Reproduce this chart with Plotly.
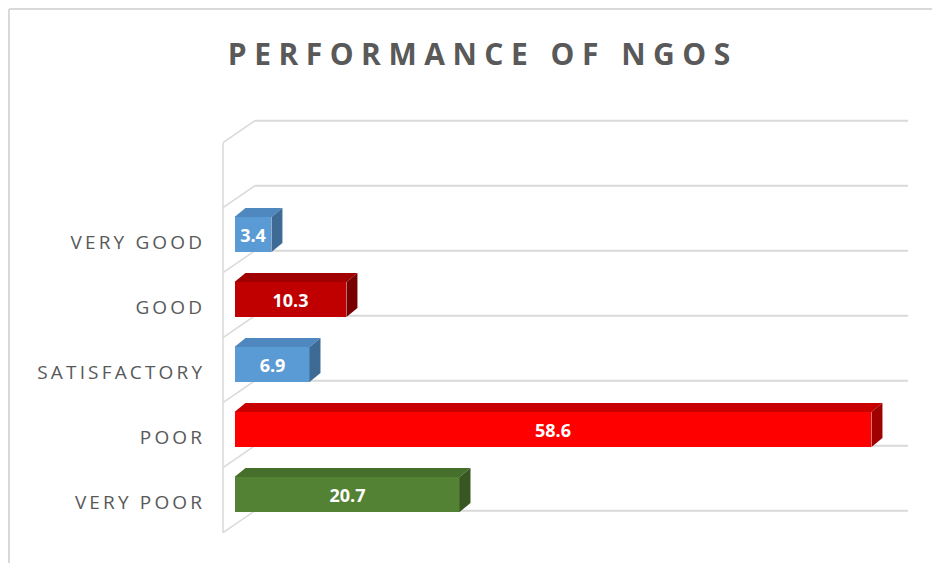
import plotly.graph_objects as go

# ---- data ----
categories = ["VERY GOOD", "GOOD", "SATISFACTORY", "POOR", "VERY POOR"]
values = [3.4, 10.3, 6.9, 58.6, 20.7]
front_colors = ["#5B9BD5", "#C00000", "#5B9BD5", "#FF0000", "#548235"]
top_colors = ["#4F88BF", "#A00000", "#4F88BF", "#C80000", "#476F2C"]
side_colors = ["#3D6B96", "#780000", "#3D6B96", "#A00000", "#375622"]
title_text = "PERFORMANCE OF NGOS"

n = len(categories)
idx = [n - 1 - i for i in range(n)]  # VERY POOR at bottom

# geometry (style) constants
BAR_TOP = 0.357
BAR_BOT = -0.182
DX = 1.01      # bar depth in value units
DY = 0.138     # bar depth in category units
GX0 = -1.058   # front wall x
GX1 = 1.886    # back wall start x
GX2 = 61.96    # back wall end x
GDY = 0.338    # wall depth in category units

THIN = "\u2009"
SPACE4 = "\u2005"


def spaced(s, sep):
    return sep.join(list(s))


fig = go.Figure()

# gridlines (3D wall)
shapes = []
grid_col = "#D9D9D9"
for k in range(n + 2):
    yf = -0.5 + k
    yb = yf + GDY
    shapes.append(dict(type="line", xref="x", yref="y", x0=GX0, y0=yf, x1=GX1, y1=yb,
                       line=dict(color=grid_col, width=1.5), layer="below"))
    shapes.append(dict(type="line", xref="x", yref="y", x0=GX1, y0=yb, x1=GX2, y1=yb,
                       line=dict(color=grid_col, width=2), layer="below"))
shapes.append(dict(type="line", xref="x", yref="y", x0=GX0, y0=-0.5, x1=GX0, y1=n + 0.5,
                   line=dict(color=grid_col, width=1.5), layer="below"))
# chart border
BX = -204 / 705
BY = (532 - 1) / 430
shapes.append(dict(type="line", xref="paper", yref="paper", x0=BX, y0=BY, x1=1.06, y1=BY,
                   line=dict(color="#D9D9D9", width=2)))
shapes.append(dict(type="line", xref="paper", yref="paper", x0=BX, y0=BY, x1=BX, y1=-0.08,
                   line=dict(color="#D9D9D9", width=2)))

# front faces
fig.add_trace(go.Bar(
    orientation="h",
    x=values,
    y=[i + (BAR_TOP + BAR_BOT) / 2 for i in idx],
    width=BAR_TOP - BAR_BOT,
    marker=dict(color=front_colors, line=dict(width=0)),
    text=[f"{v:.1f}" for v in values],
    textposition="inside",
    insidetextanchor="middle",
    textfont=dict(color="white", size=18, family="Open Sans", weight="bold"),
    hoverinfo="skip",
    showlegend=False,
))

# top and side faces
for v, i, tc, sc in zip(values, idx, top_colors, side_colors):
    yt = i + BAR_TOP
    yb = i + BAR_BOT
    fig.add_trace(go.Scatter(
        x=[0, v, v + DX, DX, 0], y=[yt, yt, yt + DY, yt + DY, yt],
        fill="toself", fillcolor=tc, mode="lines", line=dict(width=0, color=tc),
        hoverinfo="skip", showlegend=False))
    fig.add_trace(go.Scatter(
        x=[v, v + DX, v + DX, v, v], y=[yb, yb + DY, yt + DY, yt, yb],
        fill="toself", fillcolor=sc, mode="lines", line=dict(width=0, color=sc),
        hoverinfo="skip", showlegend=False))

fig.update_layout(
    width=940, height=563,
    margin=dict(l=205, r=30, t=102, b=31),
    paper_bgcolor="white", plot_bgcolor="white",
    shapes=shapes,
    title=dict(text=spaced(title_text, SPACE4), xref="container", yref="container",
               x=471 / 940, y=1 - 46 / 563, xanchor="center", yanchor="middle",
               font=dict(family="Open Sans", size=30, color="#595959", weight="bold")),
    xaxis=dict(range=[-1.978, 62.88], showgrid=False, zeroline=False, showticklabels=False,
               showline=False, fixedrange=True),
    yaxis=dict(range=[-0.612, 6.003], showgrid=False, zeroline=False, showline=False,
               tickvals=[i - 0.04 for i in idx], ticktext=[spaced(c, THIN) for c in categories],
               tickfont=dict(family="Open Sans", size=19, color="#595959"),
               ticks="", ticklabelstandoff=10, fixedrange=True),
    bargap=0,
)

fig.write_html("out.html")
